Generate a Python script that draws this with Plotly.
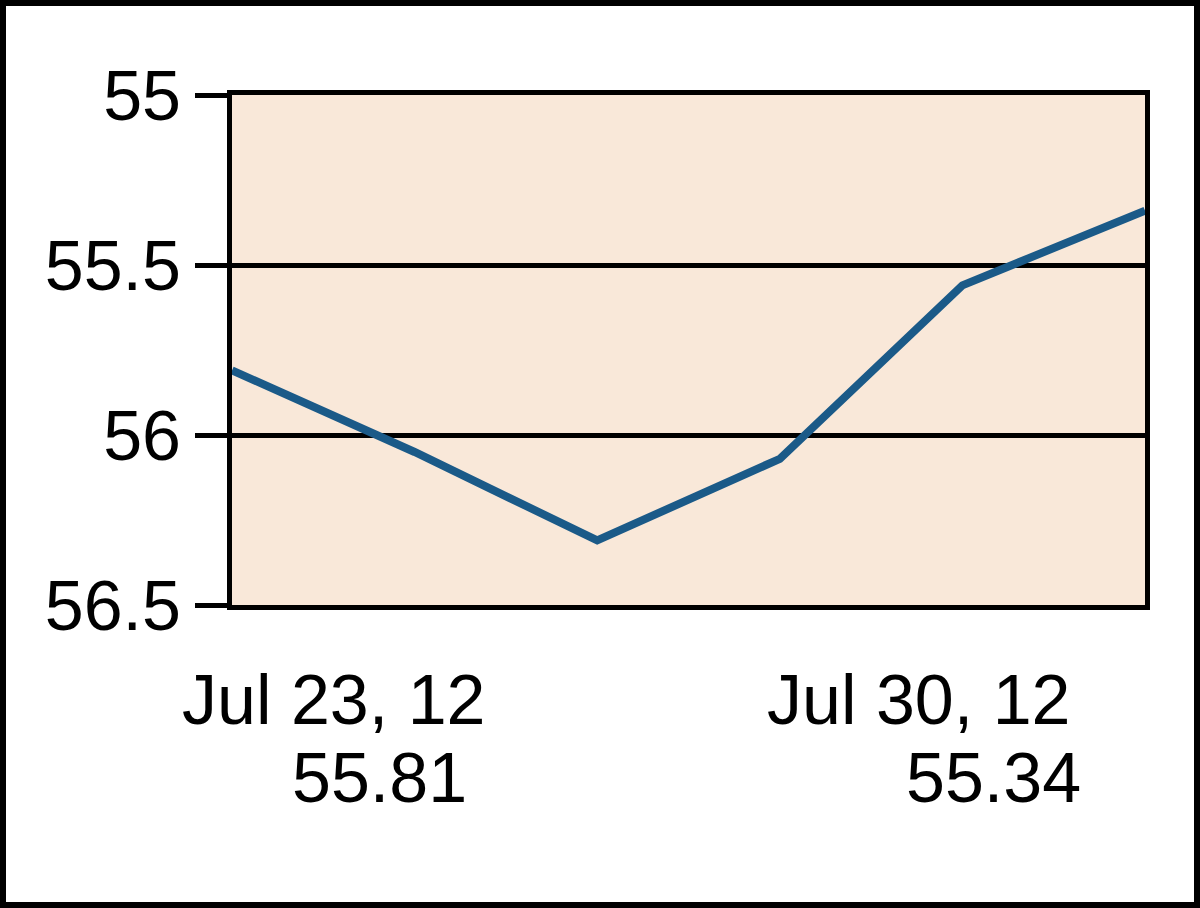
import plotly.graph_objects as go

# Data (trading days, Jul 23 - Jul 30, 2012)
dates = ["Jul 23, 12", "Jul 24, 12", "Jul 25, 12", "Jul 26, 12", "Jul 27, 12", "Jul 30, 12"]
values = [55.81, 56.05, 56.31, 56.07, 55.56, 55.34]
y_ticks = [55, 55.5, 56, 56.5]
y_tick_labels = ["55", "55.5", "56", "56.5"]

W, H = 1200, 908
L, R, T, B = 232, 55, 95, 303
PW, PH = W - L - R, H - T - B

def px(x):
    return (x - L) / PW

def py(y):
    return (H - B - y) / PH

FONT = "Liberation Sans, Arial, sans-serif"

fig = go.Figure()
fig.add_trace(go.Scatter(
    x=list(range(len(values))), y=values, mode="lines",
    line=dict(color="#1B5A88", width=8), hoverinfo="skip", showlegend=False,
))

fig.update_layout(
    width=W, height=H,
    margin=dict(l=L, r=R, t=T, b=B, pad=0),
    paper_bgcolor="white", plot_bgcolor="#F9E8D9",
    showlegend=False,
    xaxis=dict(range=[0, len(values) - 1], showgrid=False, zeroline=False,
               showticklabels=False, ticks="", showline=True, linecolor="black",
               linewidth=5, mirror=True, fixedrange=True),
    yaxis=dict(range=[56.5, 55], tickvals=y_ticks, ticktext=y_tick_labels,
               showgrid=True, gridcolor="black", gridwidth=5, zeroline=False,
               ticks="outside", ticklen=32, tickwidth=5, tickcolor="black",
               showline=True, linecolor="black", linewidth=5, mirror=True,
               tickfont=dict(family=FONT, size=70, color="black"), fixedrange=True),
    shapes=[dict(type="rect", xref="paper", yref="paper",
                 x0=px(3), x1=px(W - 3), y0=py(H - 3), y1=py(3),
                 line=dict(color="black", width=6), fillcolor="rgba(0,0,0,0)",
                 layer="above")],
)

first_val = f"{values[0]:.2f}"
last_val = f"{values[-1]:.2f}"
ann = [
    (dates[0], 180, 700, "left"),
    (first_val, 290, 778, "left"),
    (dates[-1], 1073, 700, "right"),
    (last_val, 1083, 778, "right"),
]
for text, x, y, anchor in ann:
    fig.add_annotation(text=text, xref="paper", yref="paper", x=px(x), y=py(y),
                       xanchor=anchor, yanchor="middle", showarrow=False,
                       font=dict(family=FONT, size=70, color="black"))

fig.write_html("out.html", config={"displayModeBar": False, "staticPlot": True},
               post_script="document.body.style.margin='0';document.body.style.overflow='hidden';")
